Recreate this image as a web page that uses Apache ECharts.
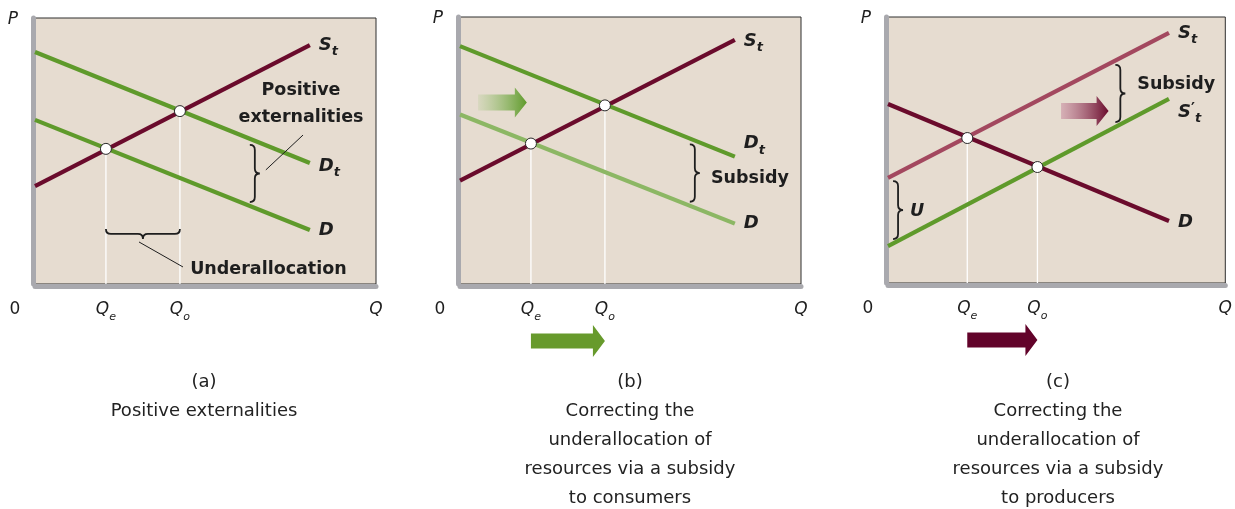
<!DOCTYPE html>
<html><head><meta charset="utf-8">
<script src="https://cdn.jsdelivr.net/npm/echarts@6/dist/echarts.min.js"></script>
<style>html,body{margin:0;padding:0;background:#fff}#c{width:1235px;height:509px}</style>
</head><body><div id="c"></div>
<script>
// ===== DATA (both axes of every panel run 0..100) =====
const tickNames = ['0', 'Qe', 'Qo', 'Q'];
// panel (a) Positive externalities
const aSupplyT = [[0, 36.8], [80.6, 89.8]];
const aDemandT = [[0, 87.2], [80.6, 45.5]];
const aDemand  = [[0, 61.7], [80.6, 20.3]];
const aEquil   = [[20.8, 50.8], [42.5, 65.0]];
const aBraceV  = [[63.0, 30.8, 52.3]];           // x, yLow, yHigh
const aBraceH  = [[20.8, 42.5, 20.7]];           // xLeft, xRight, y
const aLeaders = [[[78.6, 56.0], [67.7, 42.9]], [[30.5, 15.8], [43.4, 6.4]]];
const aNotes   = ['Positive\nexternalities', 'Underallocation'];
const aNotePos = [[78.0, 67.5], [45.5, 5.3]];
// panel (b) subsidy to consumers
const bSupplyT = [[0, 38.7], [80.6, 91.4]];
const bDemandT = [[0, 89.1], [80.6, 47.7]];
const bDemand  = [[0, 63.5], [80.6, 22.6]];
const bEquil   = [[20.8, 52.6], [42.5, 66.9]];
const bBraceV  = [[67.4, 30.8, 52.3]];
const bNotes   = ['Subsidy'];
const bNotePos = [[73.6, 39.5]];
const bShift   = [[5.3, 19.6, 68.0]];            // xTail, xTip, y
// panel (c) subsidy to producers
const cSupplyT  = [[0, 39.5], [83.3, 94.0]];
const cSupplyT2 = [[0, 13.9], [83.3, 69.2]];
const cDemand   = [[0, 67.3], [83.3, 23.3]];
const cEquil    = [[23.5, 54.5], [44.3, 43.6]];
const cBraceV   = [[67.4, 60.5, 82.0], [1.5, 16.5, 38.3]];
const cNotes    = ['Subsidy', 'U'];
const cNotePos  = [[73.9, 74.6], [6.5, 27.0]];
const cShift    = [[51.3, 65.4, 64.7]];
const captions = ['(a)\nPositive externalities',
  '(b)\nCorrecting the\nunderallocation of\nresources via a subsidy\nto consumers',
  '(c)\nCorrecting the\nunderallocation of\nresources via a subsidy\nto producers'];

// ===== STYLE =====
const MAROON = '#6a0b2c', GREEN = '#5f9a2b', LGREEN = '#8cb764', LMAROON = '#a3485f';
const BG = '#e6dcd0', INK = '#1e1e1e';
const FONT = 'DejaVu Sans';
const grids = [
  {left: 35, top: 18, width: 341, height: 266},
  {left: 460, top: 17, width: 341, height: 267},
  {left: 888, top: 17, width: 342, height: 266}
];
const captionX = [204, 630, 1058];

const labelRich = {
  s: {fontFamily: FONT, fontWeight: 'bold', fontStyle: 'italic', fontSize: 18, lineHeight: 22, verticalAlign: 'top', color: INK},
  p: {fontFamily: FONT, fontWeight: 'bold', fontSize: 15, lineHeight: 15, verticalAlign: 'top', color: INK},
  t: {fontFamily: FONT, fontWeight: 'bold', fontStyle: 'italic', fontSize: 13, lineHeight: 13, verticalAlign: 'bottom', color: INK}
};
const tickRich = {
  z: {fontFamily: FONT, fontSize: 17, lineHeight: 22, verticalAlign: 'top', color: INK, padding: [0, 40, 0, 0]},
  q: {fontFamily: FONT, fontStyle: 'italic', fontSize: 17, lineHeight: 22, verticalAlign: 'top', color: INK},
  e: {fontFamily: FONT, fontStyle: 'italic', fontSize: 11, lineHeight: 11, verticalAlign: 'bottom', color: INK}
};
function tickText(name) {
  if (name === '0') return '{z|0}';
  if (name.length === 1) return '{q|' + name + '}';
  return '{q|' + name[0] + '}{e|' + name.slice(1) + '}';
}

const panels = [
  {curves: [[aSupplyT, MAROON, '{s|S}{t|t}', [0, 2]], [aDemandT, GREEN, '{s|D}{t|t}', [0, 5]], [aDemand, GREEN, '{s|D}', [0, 2]]],
   equil: aEquil, braceV: aBraceV, braceH: aBraceH, leaders: aLeaders, notes: aNotes, notePos: aNotePos, noteAlign: ['center', 'left'], shift: null, shiftColor: null, bottomArrow: null},
  {curves: [[bSupplyT, MAROON, '{s|S}{t|t}', [0, 3]], [bDemandT, GREEN, '{s|D}{t|t}', [0, -11]], [bDemand, LGREEN, '{s|D}', [0, 2]]],
   equil: bEquil, braceV: bBraceV, braceH: [], leaders: [], notes: bNotes, notePos: bNotePos, noteAlign: ['left'], shift: bShift, shiftColor: ['rgba(140,190,100,0.15)', '#5f9a2b'], bottomArrow: '#679a2c'},
  {curves: [[cSupplyT, LMAROON, '{s|S}{t|t}', [0, 2]], [cSupplyT2, GREEN, '{s|S}{p|′}{t|t}', [0, 15]], [cDemand, MAROON, '{s|D}', [0, 3]]],
   equil: cEquil, braceV: cBraceV, braceH: [], leaders: [], notes: cNotes, notePos: cNotePos, noteAlign: ['left', 'left'], shift: cShift, shiftColor: ['rgba(200,140,160,0.55)', '#6a0b2c'], bottomArrow: '#62032a'}
];

const xAxes = [], yAxes = [], gridOpts = [], series = [], titles = [];

panels.forEach(function (pn, gi) {
  gridOpts.push(Object.assign({show: true, backgroundColor: BG, borderColor: '#2e2e2e', borderWidth: 1, containLabel: false}, grids[gi]));
  const ticks = [0, pn.equil[0][0], pn.equil[1][0], 100];
  xAxes.push({
    type: 'value', gridIndex: gi, min: 0, max: 100, offset: 2,
    axisLine: {show: true, onZero: false, lineStyle: {color: '#a9a9ae', width: 5}},
    axisTick: {show: false}, splitLine: {show: false},
    axisLabel: {show: true, customValues: ticks, margin: 15, rich: tickRich,
      formatter: function (v) {
        let best = 0;
        ticks.forEach(function (t, i) { if (Math.abs(t - v) < Math.abs(ticks[best] - v)) best = i; });
        return tickText(tickNames[best]);
      }}
  });
  yAxes.push({
    type: 'value', gridIndex: gi, min: 0, max: 100, offset: 2,
    axisLine: {show: true, onZero: false, lineStyle: {color: '#a9a9ae', width: 5}},
    axisTick: {show: false}, splitLine: {show: false}, axisLabel: {show: false},
    name: 'P', nameLocation: 'end', nameGap: -2,
    nameTextStyle: {fontFamily: FONT, fontStyle: 'italic', fontSize: 17, color: INK, align: 'center', verticalAlign: 'middle', padding: [0, 40, 0, 0]}
  });

  // white drop lines
  pn.equil.forEach(function (p) {
    series.push({type: 'line', xAxisIndex: gi, yAxisIndex: gi, data: [[p[0], 0], [p[0], p[1]]], symbol: 'none', silent: true,
      lineStyle: {color: '#ffffff', width: 1.3}, z: 1, animation: false});
  });
  // curves
  pn.curves.forEach(function (c) {
    series.push({type: 'line', xAxisIndex: gi, yAxisIndex: gi, data: c[0], symbol: 'none', silent: true, z: 3, animation: false,
      lineStyle: {color: c[1], width: 4.2, cap: 'butt'},
      endLabel: {show: true, formatter: c[2], rich: labelRich, distance: 9, offset: c[3]}});
  });
  // equilibrium points
  series.push({type: 'scatter', xAxisIndex: gi, yAxisIndex: gi, data: pn.equil, symbolSize: 11, silent: true, z: 6, animation: false,
    itemStyle: {color: '#ffffff', borderColor: '#2a2a2a', borderWidth: 1, opacity: 1}});
  // leader lines
  pn.leaders.forEach(function (l) {
    series.push({type: 'line', xAxisIndex: gi, yAxisIndex: gi, data: l, symbol: 'none', silent: true, z: 4, animation: false,
      lineStyle: {color: INK, width: 1}});
  });
  // vertical braces (tip to the right)
  if (pn.braceV.length) series.push({type: 'custom', xAxisIndex: gi, yAxisIndex: gi, data: pn.braceV, silent: true, z: 4, animation: false,
    renderItem: function (params, api) {
      const top = api.coord([api.value(0), api.value(2)]);
      const bot = api.coord([api.value(0), api.value(1)]);
      const x = top[0], y0 = top[1], y1 = bot[1], w = 10, r = 5, xm = x + w / 2, ym = (y0 + y1) / 2;
      const d = 'M' + x + ',' + y0 + ' Q' + xm + ',' + y0 + ' ' + xm + ',' + (y0 + r) +
        ' L' + xm + ',' + (ym - r) + ' Q' + xm + ',' + ym + ' ' + (x + w) + ',' + ym +
        ' Q' + xm + ',' + ym + ' ' + xm + ',' + (ym + r) + ' L' + xm + ',' + (y1 - r) +
        ' Q' + xm + ',' + y1 + ' ' + x + ',' + y1;
      return {type: 'path', shape: {pathData: d}, style: {stroke: INK, lineWidth: 1.8, fill: null}};
    }});
  // horizontal braces (tip downward)
  if (pn.braceH.length) series.push({type: 'custom', xAxisIndex: gi, yAxisIndex: gi, data: pn.braceH, silent: true, z: 4, animation: false,
    renderItem: function (params, api) {
      const L = api.coord([api.value(0), api.value(2)]);
      const R = api.coord([api.value(1), api.value(2)]);
      const y = L[1], x0 = L[0], x1 = R[0], h = 10, r = 5, ymid = y + h / 2, xm = (x0 + x1) / 2;
      const d = 'M' + x0 + ',' + y + ' Q' + x0 + ',' + ymid + ' ' + (x0 + r) + ',' + ymid +
        ' L' + (xm - r) + ',' + ymid + ' Q' + xm + ',' + ymid + ' ' + xm + ',' + (y + h) +
        ' Q' + xm + ',' + ymid + ' ' + (xm + r) + ',' + ymid + ' L' + (x1 - r) + ',' + ymid +
        ' Q' + x1 + ',' + ymid + ' ' + x1 + ',' + y;
      return {type: 'path', shape: {pathData: d}, style: {stroke: INK, lineWidth: 1.8, fill: null}};
    }});
  // notes
  series.push({type: 'custom', xAxisIndex: gi, yAxisIndex: gi, data: pn.notePos, silent: true, z: 5, animation: false,
    renderItem: function (params, api) {
      const p = api.coord([api.value(0), api.value(1)]);
      const txt = pn.notes[params.dataIndex];
      return {type: 'text', x: p[0], y: p[1], style: {text: txt, fontFamily: FONT, fontWeight: 'bold',
        fontStyle: txt === 'U' ? 'italic' : 'normal', fontSize: 17.5, lineHeight: 27, fill: INK,
        align: pn.noteAlign[params.dataIndex], verticalAlign: 'middle'}};
    }});
  // in-plot shift arrow (gradient)
  if (pn.shift) series.push({type: 'custom', xAxisIndex: gi, yAxisIndex: gi, data: pn.shift, silent: true, z: 4, animation: false,
    renderItem: function (params, api) {
      const a = api.coord([api.value(0), api.value(2)]);
      const b = api.coord([api.value(1), api.value(2)]);
      const x0 = a[0], x1 = b[0], y = a[1], hb = 8, hh = 15, hl = 12, xh = x1 - hl;
      return {type: 'polygon', shape: {points: [[x0, y - hb], [xh, y - hb], [xh, y - hh], [x1, y], [xh, y + hh], [xh, y + hb], [x0, y + hb]]},
        style: {fill: new echarts.graphic.LinearGradient(0, 0, 1, 0, [{offset: 0, color: pn.shiftColor[0]}, {offset: 1, color: pn.shiftColor[1]}])}};
    }});
  // arrow under the quantity axis from Qe to Qo
  if (pn.bottomArrow) series.push({type: 'custom', xAxisIndex: gi, yAxisIndex: gi, data: [[pn.equil[0][0], pn.equil[1][0]]], silent: true, z: 4, animation: false, clip: false,
    renderItem: function (params, api) {
      const a = api.coord([api.value(0), 0]);
      const b = api.coord([api.value(1), 0]);
      const x0 = a[0], x1 = b[0], y = a[1] + 57, hb = 7.5, hh = 16, hl = 12, xh = x1 - hl;
      return {type: 'polygon', shape: {points: [[x0, y - hb], [xh, y - hb], [xh, y - hh], [x1, y], [xh, y + hh], [xh, y + hb], [x0, y + hb]]},
        style: {fill: pn.bottomArrow}};
    }});

  titles.push({text: captions[gi], left: captionX[gi], top: 368, padding: 0, textAlign: 'center',
    textStyle: {fontFamily: FONT, fontWeight: 'normal', fontSize: 18, lineHeight: 29, color: '#222'}});
});

const chart = echarts.init(document.getElementById('c'), null, {renderer: 'canvas'});
chart.setOption({
  backgroundColor: '#ffffff',
  animation: false,
  title: titles,
  grid: gridOpts,
  xAxis: xAxes,
  yAxis: yAxes,
  series: series
});
</script>
</body></html>
